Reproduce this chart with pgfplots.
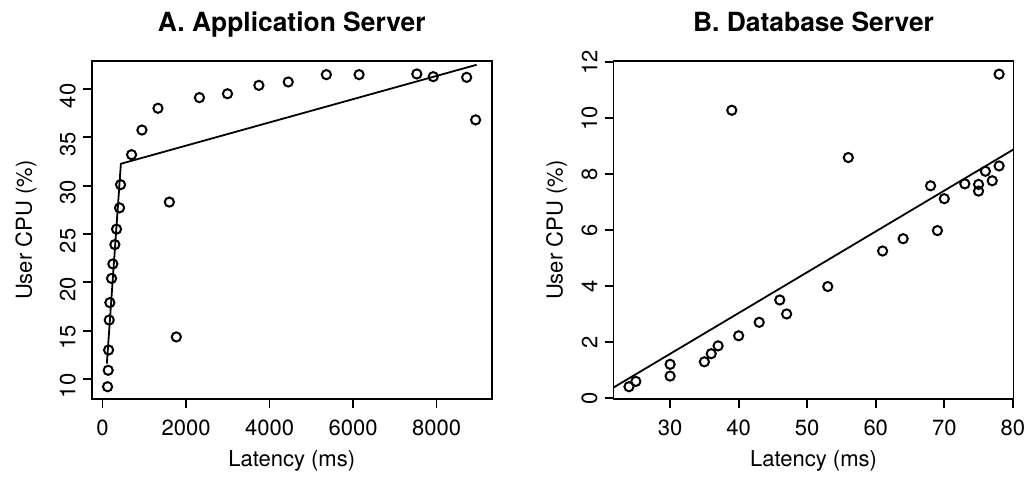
\documentclass[border=0pt]{standalone}
\usepackage{fontspec}
\setmainfont{TeX Gyre Heros}
\usepackage{pgfplots}
\pgfplotsset{compat=1.18}

% R-style base graphics look
\pgfplotsset{rplot/.style={
  scale only axis, width=200pt, height=169pt,
  axis line style={line width=0.9pt},
  tick align=outside, xtick pos=bottom, ytick pos=left,
  major tick length=4.5pt, tick style={line width=0.9pt, black},
  font=\fontsize{11}{13}\selectfont,
  /pgf/number format/assume math mode=true,
  /pgf/number format/1000 sep={},
  xticklabel style={yshift=-2.5pt},
  yticklabel style={rotate=90, anchor=south},
  every axis title shift=0pt,
  title style={font=\fontsize{13.2}{15}\selectfont\bfseries,
    at={(axis description cs:0.5,1.0888)}, anchor=base},
  xlabel style={at={(axis description cs:0.5,-0.1994)}, anchor=base},
  xlabel={Latency (ms)}, ylabel={User CPU (\%)},
  pts/.style={only marks, mark=o, mark size=2.3pt,
    mark options={line width=1pt, black}},
  fit/.style={no marks, black, line width=0.9pt},
}}

\begin{document}
\begin{tikzpicture}
\begin{axis}[rplot,
  title={A. Application Server},
  xmin=-260, xmax=9320, ymin=7.9, ymax=42.86,
  xtick={0,2000,4000,6000,8000},
  ytick={10,15,20,25,30,35,40},
  yticklabel style={xshift=-3.5pt},
  ylabel style={at={(axis description cs:-0.1495,0.5)}, anchor=base},
]
\addplot[pts] coordinates {
(120,9.2) (135,10.9) (144,13.0) (160,16.1) (175,17.9) (216,20.4)
(247,21.9) (295,23.9) (335,25.5) (407,27.7) (431,30.1) (695,33.2)
(943,35.75) (1327,38.0) (1600,28.3) (1767,14.35) (2320,39.1)
(2992,39.5) (3744,40.37) (4447,40.72) (5360,41.48) (6144,41.48)
(7527,41.55) (7920,41.27) (8720,41.2) (8935,36.8)};
\addplot[fit] coordinates {(103,11.6) (439,32.26) (8959,42.5)};
\end{axis}

\begin{axis}[rplot, at={(260.9pt,0pt)},
  title={B. Database Server},
  xmin=21.74, xmax=80.1, ymin=-0.05, ymax=12.03,
  xtick={30,40,50,60,70,80},
  ytick={0,2,4,6,8,10,12},
  ylabel style={at={(axis description cs:-0.1275,0.5)}, anchor=base},
]
\addplot[pts] coordinates {
(24,0.40) (25,0.59) (30,1.20) (30,0.78) (35,1.29) (36,1.58) (37,1.86)
(39,10.28) (40,2.22) (43,2.70) (46,3.50) (47,3.0) (53,3.98) (56,8.59)
(61,5.25) (64,5.69) (68,7.58) (69,5.98) (70,7.12) (73,7.65) (75,7.63)
(75,7.39) (76,8.10) (77,7.76) (78,8.29) (78,11.57)};
\addplot[fit] coordinates {(21.74,0.37) (80.1,8.88)};
\end{axis}
\pgfresetboundingbox
\path (-45.85pt,-41.35pt) rectangle (468.65pt,199.65pt);
\end{tikzpicture}
\end{document}
